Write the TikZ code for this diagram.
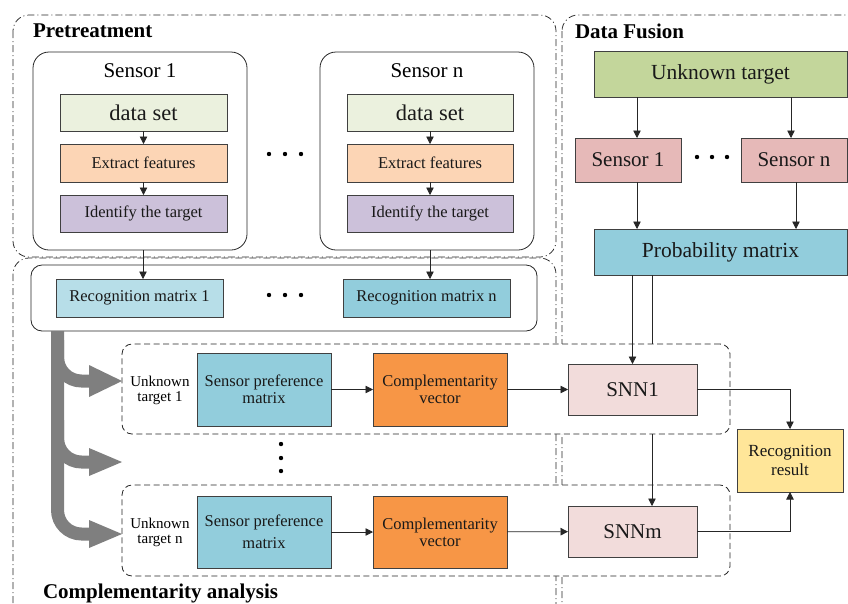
\documentclass[tikz,border=0pt]{standalone}
\usepackage{fontspec}
\setmainfont{Liberation Serif}
\usetikzlibrary{arrows.meta,calc}

\definecolor{cdata}{HTML}{EBF1DE}
\definecolor{cextr}{HTML}{FCD5B5}
\definecolor{cident}{HTML}{CCC1DA}
\definecolor{crmone}{HTML}{B7DEE8}
\definecolor{cblue}{HTML}{92CDDC}
\definecolor{cunk}{HTML}{C3D69B}
\definecolor{csens}{HTML}{E6B9B8}
\definecolor{corange}{HTML}{F79646}
\definecolor{csnn}{HTML}{F2DCDB}
\definecolor{cres}{HTML}{FFE699}
\definecolor{garrowc}{HTML}{7F7F7F}

\begin{document}
\begin{tikzpicture}[x=1pt,y=1pt,
  every node/.style={inner sep=0pt, outer sep=0pt},
  box/.style={draw=black!75, line width=0.8pt, align=center, text=black!90},
  grp/.style={draw=black!85, line width=0.75pt, dash pattern=on 7pt off 3pt on 1pt off 3pt, rounded corners=16pt},
  sensbox/.style={draw=black!85, line width=0.8pt, rounded corners=16pt},
  rowbox/.style={draw=black!85, line width=0.8pt, dash pattern=on 6pt off 3.5pt, rounded corners=10pt, fill=white},
  lnk/.style={draw=black!85, line width=0.8pt},
  arr/.style={lnk, -{Triangle[length=7.5pt,width=7.5pt]}},
  garrow/.style={draw=garrowc, line width=13pt, rounded corners=24pt},
  fbig/.style={font=\fontsize{21.5}{24}\selectfont},
  fmid/.style={font=\fontsize{16.5}{19}\selectfont},
  fsml/.style={font=\fontsize{15}{15}\selectfont},
  ttl/.style={font=\fontsize{21}{24}\selectfont\bfseries, anchor=base west},
]
\useasboundingbox (0,0) rectangle (848,-603);
\clip (0,0) rectangle (848,-603);

% ---- group frames ----
\draw[grp] (13,-15) rectangle (556,-257);
\draw[grp] (13,-258) rectangle (556,-625);
\draw[grp] (562,-15) rectangle (880,-625);

\node[ttl] (tpre) at (33,-37) {Pretreatment};
\node[ttl] (tfus) at (575,-38) {Data Fusion};
\node[ttl] (tcomp) at (43,-598) {Complementarity analysis};

% ---- pretreatment: sensor columns ----
\draw[sensbox] (33,-52) rectangle (247,-250);
\draw[sensbox] (320,-52) rectangle (534,-250);
\coordinate (s1bot) at (143,-250);
\coordinate (snbot) at (430,-250);
\node[font=\fontsize{21}{24}\selectfont] (s1t) at (140,-71) {Sensor 1};
\node[font=\fontsize{21}{24}\selectfont] (snt) at (427,-71) {Sensor n};

\node[box, fill=cdata, minimum width=167pt, minimum height=37pt, font=\fontsize{22.5}{24}\selectfont] (d1) at (143.5,-112.5) {data set};
\node[box, fill=cextr, minimum width=167pt, minimum height=38pt, fmid] (e1) at (143.5,-163) {Extract features};
\node[box, fill=cident, minimum width=167pt, minimum height=37pt, fmid] (i1) at (143.5,-213.5) {Identify the target};
\node[box, fill=cdata, minimum width=166pt, minimum height=37pt, font=\fontsize{22.5}{24}\selectfont] (dn) at (430,-112.5) {data set};
\node[box, fill=cextr, minimum width=166pt, minimum height=38pt, fmid] (en) at (430,-163) {Extract features};
\node[box, fill=cident, minimum width=166pt, minimum height=37pt, fmid] (in) at (430,-213.5) {Identify the target};
\draw[arr] (d1) -- (e1);
\draw[arr] (e1) -- (i1);
\draw[arr] (dn) -- (en);
\draw[arr] (en) -- (in);
\foreach \xx in {269,285,301} \fill (\xx,-154) circle (2.2);

% ---- recognition matrices ----
\draw[sensbox, rounded corners=11pt] (31,-265) rectangle (537,-331);
\node[box, fill=crmone, minimum width=167pt, minimum height=38pt, fmid] (rm1) at (139.5,-298) {Recognition matrix 1};
\node[box, fill=cblue, minimum width=167pt, minimum height=38pt, fmid] (rmn) at (426.5,-298) {Recognition matrix n};
\foreach \xx in {269,285,301} \fill (\xx,-295) circle (2.2);
\draw[arr] (s1bot) -- (s1bot |- rm1.north);
\draw[arr] (snbot) -- (snbot |- rmn.north);

% ---- data fusion ----
\node[box, fill=cunk, minimum width=253pt, minimum height=46pt, fbig] (unk) at (720.5,-74) {Unknown target};
\node[box, fill=csens, minimum width=106pt, minimum height=44pt, font=\fontsize{21}{24}\selectfont] (fs1) at (628,-160) {Sensor 1};
\node[box, fill=csens, minimum width=106pt, minimum height=44pt, font=\fontsize{21}{24}\selectfont] (fsn) at (794,-160) {Sensor n};
\foreach \xx in {697,712,727} \fill (\xx,-157) circle (2.2);
\node[box, fill=cblue, minimum width=253pt, minimum height=46pt, fbig] (pm) at (720.5,-252) {Probability matrix};
\coordinate (ka) at (637,0);
\coordinate (kb) at (791,0);
\coordinate (kc) at (796,0);
\coordinate (kd) at (652,0);
\draw[arr] (ka |- unk.south) -- (ka |- fs1.north);
\draw[arr] (kb |- unk.south) -- (kb |- fsn.north);
\draw[arr] (ka |- fs1.south) -- (ka |- pm.north);
\draw[arr] (kc |- fsn.south) -- (kc |- pm.north);
% second feed from the probability matrix (runs behind the first row)
\draw[lnk] (kd |- pm.south) -- (kd |- 0,-420);

% ---- complementarity rows ----
\node[rowbox, minimum width=608pt, minimum height=90pt] (row1) at (426,-389) {};
\node[rowbox, minimum width=608pt, minimum height=91pt] (row2) at (426,-530.5) {};

\node[fsml, align=center] (u1) at (160,-390) {Unknown\\target 1};
\node[fsml, align=center] (u2) at (160,-532) {Unknown\\target n};

\node[box, fill=cblue, minimum width=134pt, minimum height=73pt, font=\fontsize{16.5}{17}\selectfont] (sp1) at (264,-389.5) {Sensor preference\\matrix};
\node[box, fill=corange, minimum width=134pt, minimum height=73pt, font=\fontsize{16.5}{17}\selectfont] (cv1) at (440,-389.5) {Complementarity\\vector};
\node[box, fill=csnn, minimum width=129pt, minimum height=51pt, font=\fontsize{21}{24}\selectfont] (snn1) at (632.5,-389.5) {SNN1};

\node[box, fill=cblue, minimum width=134pt, minimum height=72pt, font=\fontsize{16.5}{22}\selectfont] (sp2) at (264,-532) {Sensor preference\\matrix};
\node[box, fill=corange, minimum width=134pt, minimum height=72pt, font=\fontsize{16.5}{17}\selectfont] (cv2) at (440,-532) {Complementarity\\vector};
\node[box, fill=csnn, minimum width=129pt, minimum height=51pt, font=\fontsize{21}{24}\selectfont] (snnm) at (632.5,-531.5) {SNNm};

\node[box, fill=cres, minimum width=106pt, minimum height=63pt, font=\fontsize{17}{19}\selectfont] (rr) at (790,-460.5) {Recognition\\result};

\draw[arr] (sp1) -- (cv1);
\draw[arr] (cv1) -- (snn1);
\draw[arr] (sp2) -- (cv2);
\draw[arr] (cv2) -- (snnm);
\draw[arr] (snn1.north |- pm.south) -- (snn1.north);
\draw[arr] (kd |- row1.south) -- (kd |- snnm.north);
\draw[arr] (snn1.east) -| (rr.north);
\draw[arr] (snnm.east) -| (rr.south);

\foreach \yy in {444,458,471} \fill (281,-\yy) circle (2.2);

% ---- broad grey distribution arrows ----
\coordinate (trunk) at (57.5,-331);
\draw[garrow] (trunk) |- (90,-534);
\draw[garrow] (57.5,-340) |- (90,-381);
\draw[garrow] (57.5,-420) |- (90,-462);
\fill[garrowc] (89,-365) -- (122,-381) -- (89,-397) -- cycle;
\fill[garrowc] (89,-448) -- (122,-462) -- (89,-476) -- cycle;
\fill[garrowc] (89,-520) -- (122,-534) -- (89,-548) -- cycle;
\end{tikzpicture}
\end{document}
